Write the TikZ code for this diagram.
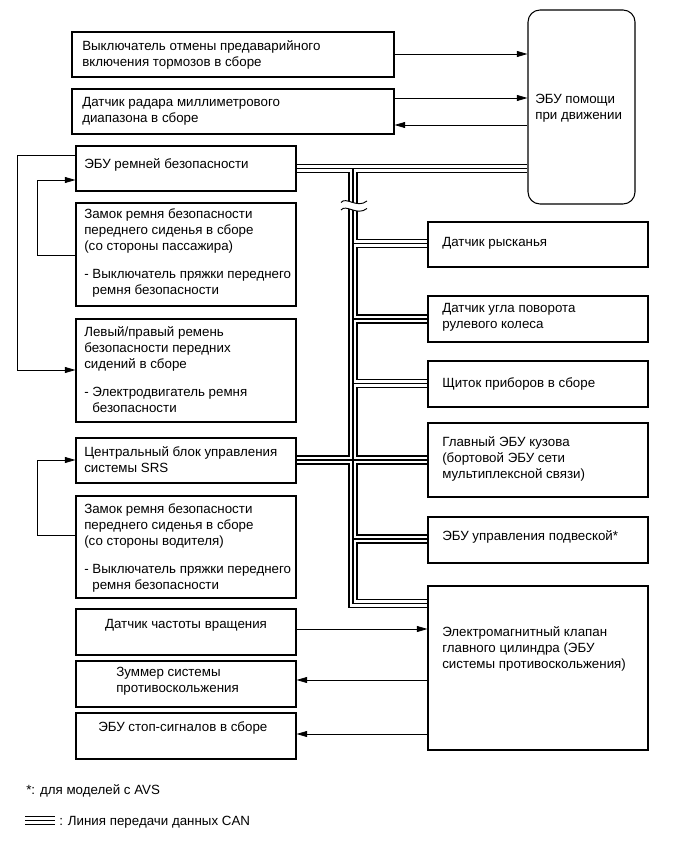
\documentclass[tikz,border=0pt]{standalone}
\usepackage{fontspec}
\setmainfont{Liberation Sans}
\usetikzlibrary{fit,arrows.meta,backgrounds}
\begin{document}
\begin{tikzpicture}[x=0.75pt,y=-0.75pt,
  box/.style={draw, line width=0.8pt, inner sep=0pt, fit={#1}},
  txt/.style={anchor=north west, inner sep=0pt, align=left,
    font=\fontsize{10}{12}\selectfont, execute at begin node=\strut},
  ln/.style={line width=0.7pt},
  arr/.style={line width=0.6pt, -{Triangle[length=8pt,width=4.5pt]}},
  canA/.style={draw=black, line width=6.8pt},
  canB/.style={draw=white, line width=5pt},
  canC/.style={draw=black, line width=0.9pt}]
\useasboundingbox (0,0) rectangle (691,855);

% boxes
\node[box={(72,32) (394,77)}] (b1) {};
\node[box={(72,89) (394,134)}] (b2) {};
\node[box={(76,146) (296,191)}] (b3) {};
\node[box={(76,203) (296,306)}] (b4) {};
\node[box={(76,319) (296,422)}] (b5) {};
\node[box={(76,438) (296,483)}] (b6) {};
\node[box={(76,496) (296,598)}] (b7) {};
\node[box={(76,609) (296,655)}] (b8) {};
\node[box={(76,661) (296,707)}] (b9) {};
\node[box={(76,713) (296,759)}] (b10) {};
\node[box={(528,10) (635,204)}, rounded corners=9pt] (help) {};
\node[box={(428,222) (648,267)}] (d1) {};
\node[box={(428,296) (648,342)}] (d2) {};
\node[box={(428,361) (648,407)}] (d3) {};
\node[box={(428,423) (648,497)}] (d4) {};
\node[box={(428,517) (648,563)}] (d5) {};
\node[box={(428,586) (648,750)}] (em) {};

% texts
\node[txt] (t1) at (82,40) {Выключатель отмены предаварийного\\включения тормозов в сборе};
\node[txt] (t2) at (82,96.6) {Датчик радара миллиметрового\\диапазона в сборе};
\node[txt] (t3) at (84,157.3) {ЭБУ ремней безопасности};
\node[txt] (t4) at (84,208.3) {Замок ремня безопасности\\переднего сиденья в сборе\\(со стороны пассажира)\\[9pt]- Выключатель пряжки переднего\\\phantom{- }ремня безопасности};
\node[txt] (t5) at (84,326.3) {Левый/правый ремень\\безопасности передних\\сидений в сборе\\[9pt]- Электродвигатель ремня\\\phantom{- }безопасности};
\node[txt] (t6) at (84,446.3) {Центральный блок управления\\системы SRS};
\node[txt] (t7) at (84,503.3) {Замок ремня безопасности\\переднего сиденья в сборе\\(со стороны водителя)\\[9pt]- Выключатель пряжки переднего\\\phantom{- }ремня безопасности};
\node[txt, anchor=north] (t8) at (186,617.3) {Датчик частоты вращения};
\node[txt] (t9) at (116,667.3) {Зуммер системы\\противоскольжения};
\node[txt] (t10) at (98,720.3) {ЭБУ стоп-сигналов в сборе};
\node[txt] (th) at (535,94.3) {ЭБУ помощи\\при движении};
\node[txt] (td1) at (442,235.3) {Датчик рысканья};
\node[txt] (td2) at (442,303.3) {Датчик угла поворота\\рулевого колеса};
\node[txt] (td3) at (442,376.3) {Щиток приборов в сборе};
\node[txt] (td4) at (442,436.3) {Главный ЭБУ кузова\\(бортовой ЭБУ сети\\мультиплексной связи)};
\node[txt] (td5) at (442,529.3) {ЭБУ управления подвеской*};
\node[txt] (tem) at (442,626.3) {Электромагнитный клапан\\главного цилиндра (ЭБУ\\системы противоскольжения)};
\node[txt] (fn) at (26,783.3) {*: для моделей с AVS};
\node[txt] (lg) at (59,813.8) {: Линия передачи данных CAN};
\coordinate (lg1) at (25,820.5);
\coordinate (lg2) at (55,820.5);

% signal arrows
\draw[arr] (b1.east |- 0,54) -- (help.west |- 0,54);
\draw[arr] (b2.east |- 0,98) -- (help.west |- 0,98);
\draw[arr] (help.west |- 0,125) -- (b2.east |- 0,125);
\draw[arr] (b3.west |- 0,155) -- (17,155) -- (17,370) -- (b5.west |- 0,370);
\draw[arr] (b4.west |- 0,255) -- (37,255) -- (37,180) -- (b3.west |- 0,180);
\draw[arr] (b7.west |- 0,535) -- (37,535) -- (37,460) -- (b6.west |- 0,460);
\draw[arr] (b8.east |- 0,629) -- (em.west |- 0,629);
\draw[arr] (em.west |- 0,680) -- (b9.east |- 0,680);
\draw[arr] (em.west |- 0,734) -- (b10.east |- 0,734);

% CAN bus (triple line)
\tikzset{canpath/.style={insert path={
    (b3.east |- 0,168.5) -- (help.west |- 0,168.5)
    (353,168.5) -- (353,603.5) -- (em.west |- 0,603.5)
    (353,243.5) -- (d1.west |- 0,243.5)
    (353,319) -- (d2.west |- 0,319)
    (353,383.5) -- (d3.west |- 0,383.5)
    (b6.east |- 0,460) -- (d4.west |- 0,460)
    (353,539) -- (d5.west |- 0,539)
    (lg1) -- (lg2)}}}
\begin{pgfonlayer}{background}
\path[canA, canpath];
\path[canB, canpath];
\path[canC, canpath];
% break symbol
\fill[white] (341,202.5) .. controls (346,196) and (357,209) .. (367,201)
  -- (367,208.5) .. controls (357,216.5) and (346,203.5) .. (341,210) -- cycle;
\draw[ln] (341,202.5) .. controls (346,196) and (357,209) .. (367,201);
\draw[ln] (341,210) .. controls (346,203.5) and (357,216.5) .. (367,208.5);
\end{pgfonlayer}
\end{tikzpicture}
\end{document}
